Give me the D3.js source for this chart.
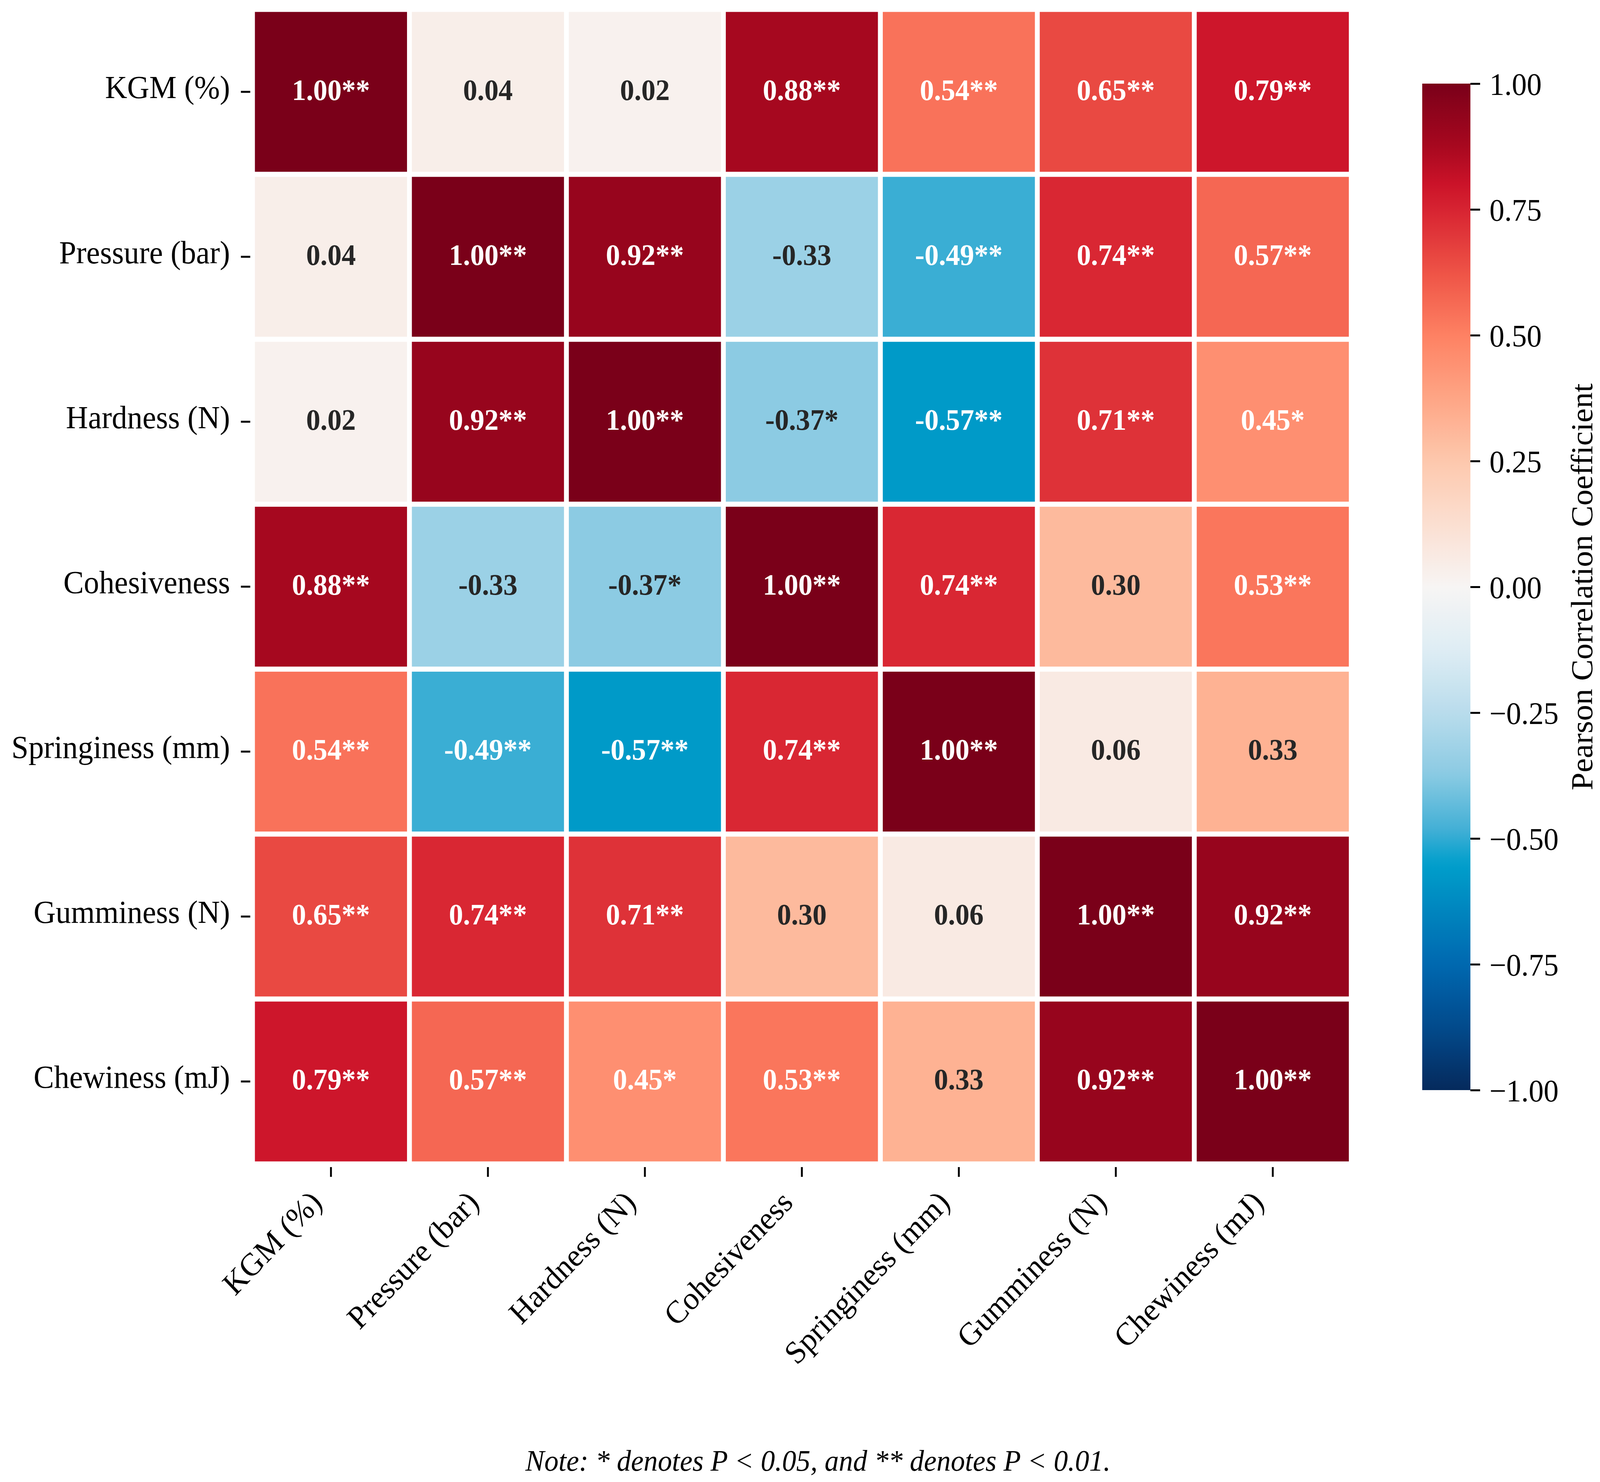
<!DOCTYPE html>
<html>
<head>
<meta charset="utf-8">
<script src="https://cdn.jsdelivr.net/npm/d3@7"></script>
<style>
  html, body { margin: 0; padding: 0; width: 100%; height: 100%; overflow: hidden; background: #fff; }
  #chart, #chart svg { display: block; }
  text { font-family: "Liberation Serif", "Times New Roman", serif; }
  .axis .domain { display: none; }
  .axis .tick line { stroke: #000; stroke-width: 5; }
  .axis .tick text { fill: #000; font-size: 82px; }
  .cbar .tick text { font-size: 80px; }
</style>
</head>
<body>
<div id="chart"></div>
<script>
// variables of the correlation matrix (same order on both axes)
const variables = ["KGM (%)", "Pressure (bar)", "Hardness (N)", "Cohesiveness",
                   "Springiness (mm)", "Gumminess (N)", "Chewiness (mJ)"];

// Pearson coefficients, one row per variable
const corrKGM       = [1.00, 0.04, 0.02, 0.88, 0.54, 0.65, 0.79];
const corrPressure  = [0.04, 1.00, 0.92, -0.33, -0.49, 0.74, 0.57];
const corrHardness  = [0.02, 0.92, 1.00, -0.37, -0.57, 0.71, 0.45];
const corrCohesive  = [0.88, -0.33, -0.37, 1.00, 0.74, 0.30, 0.53];
const corrSpringy   = [0.54, -0.49, -0.57, 0.74, 1.00, 0.06, 0.33];
const corrGummy     = [0.65, 0.74, 0.71, 0.30, 0.06, 1.00, 0.92];
const corrChewy     = [0.79, 0.57, 0.45, 0.53, 0.33, 0.92, 1.00];
const corr = [corrKGM, corrPressure, corrHardness, corrCohesive, corrSpringy, corrGummy, corrChewy];

// significance marks (* P<0.05, ** P<0.01)
const stars = [
  ["**", "",   "",   "**", "**", "**", "**"],
  ["",   "**", "**", "",   "**", "**", "**"],
  ["",   "**", "**", "*",  "**", "**", "*" ],
  ["**", "",   "*",  "**", "**", "",   "**"],
  ["**", "**", "**", "**", "**", "",   ""  ],
  ["**", "**", "**", "",   "",   "**", "**"],
  ["**", "**", "*",  "**", "",   "**", "**"]
];

const cbarTicks = [-1, -0.75, -0.5, -0.25, 0, 0.25, 0.5, 0.75, 1];
const cbarLabel = "Pearson Correlation Coefficient";
const note = "Note: * denotes P < 0.05, and ** denotes P < 0.01.";

//SETUP (drawn in 4284x3793 units, stretched to the window)
const width = 4284, height = 3793;
const grid = {left: 676, right: 3618, top: 24, bottom: 2979};
const cbar = {x: 3808, w: 129, top: 214, bottom: 2790};
const gap = 13;

let svg = d3.select("#chart").append("svg")
  .attr("viewBox", `0 0 ${width} ${height}`)
  .attr("preserveAspectRatio", "none")
  .style("width", "100vw")
  .style("height", "100vh");

// diverging colour map, blue (-1) .. white (0) .. dark red (+1)
const cmapAt = [-1, -0.875, -0.75, -0.55, -0.48, -0.37, -0.25, -0.125, 0,
                0.125, 0.25, 0.375, 0.5, 0.625, 0.74, 0.8, 0.875, 1];
const cmapStops = ["#052a5c", "#024a8c", "#0068b0", "#009fcb", "#44b0d6", "#8ccbe3",
                   "#b9dcec", "#deedf4", "#f7f5f4", "#fbdfd1", "#fdc8ad", "#fea585",
                   "#fe8163", "#ee5346", "#d92733", "#cb1329", "#a8081f", "#7a0019"];
const color = d3.scaleLinear()
  .domain(cmapAt)
  .range(cmapStops)
  .interpolate(d3.interpolateRgb)
  .clamp(true);

let x = d3.scaleBand().domain(variables).range([grid.left, grid.right]);
let y = d3.scaleBand().domain(variables).range([grid.top, grid.bottom]);

const cells = [];
corr.forEach((row, i) => row.forEach((v, j) => {
  cells.push({row: variables[i], col: variables[j], value: v, mark: stars[i][j]});
}));

svg.selectAll("rect.cell")
  .data(cells)
  .enter()
  .append("rect")
  .attr("class", "cell")
  .attr("x", d => x(d.col) + gap / 2)
  .attr("y", d => y(d.row) + gap / 2)
  .attr("width", x.bandwidth() - gap)
  .attr("height", y.bandwidth() - gap)
  .style("fill", d => color(d.value));

svg.selectAll("text.annot")
  .data(cells)
  .enter()
  .append("text")
  .attr("class", "annot")
  .attr("x", d => x(d.col) + x.bandwidth() / 2)
  .attr("y", d => y(d.row) + y.bandwidth() / 2)
  .attr("dy", "0.27em")
  .attr("text-anchor", "middle")
  .style("font-size", "76px")
  .style("font-weight", "bold")
  .style("fill", d => Math.abs(d.value) >= 0.4 ? "#fff" : "#262626")
  .text(d => d.value.toFixed(2) + d.mark);

// y axis
svg.append("g")
  .attr("class", "axis")
  .attr("transform", `translate(${grid.left - 6}, 0)`)
  .call(d3.axisLeft(y).tickSize(25).tickPadding(29))
  .selectAll(".tick text")
  .attr("dy", "0.2em");

// x axis with rotated labels
svg.append("g")
  .attr("class", "axis")
  .attr("transform", `translate(0, ${grid.bottom + 8})`)
  .call(d3.axisBottom(x).tickSize(25))
  .selectAll(".tick text")
  .attr("x", 0)
  .attr("y", 0)
  .attr("dy", 0)
  .attr("text-anchor", "end")
  .attr("transform", "translate(-20, 95) rotate(-45)");

// colour bar
const cy = d3.scaleLinear().domain([-1, 1]).range([cbar.bottom, cbar.top]);

const grad = svg.append("defs").append("linearGradient")
  .attr("id", "cbarGrad")
  .attr("x1", 0).attr("y1", 1).attr("x2", 0).attr("y2", 0);
grad.selectAll("stop")
  .data(d3.range(0, 1.0001, 0.01))
  .enter()
  .append("stop")
  .attr("offset", t => t)
  .attr("stop-color", t => color(-1 + 2 * t));

svg.append("rect")
  .attr("x", cbar.x)
  .attr("y", cy(1))
  .attr("width", cbar.w)
  .attr("height", cy(-1) - cy(1))
  .style("fill", "url(#cbarGrad)");

svg.append("g")
  .attr("class", "axis cbar")
  .attr("transform", `translate(${cbar.x + cbar.w}, 0)`)
  .call(d3.axisRight(cy).tickValues(cbarTicks).tickSize(26).tickPadding(25).tickFormat(d3.format(".2f")))
  .selectAll(".tick text")
  .attr("dy", "0.36em");

svg.append("text")
  .attr("transform", `translate(4263, ${(cbar.top + cbar.bottom) / 2}) rotate(-90)`)
  .attr("text-anchor", "middle")
  .style("font-size", "82px")
  .style("fill", "#000")
  .text(cbarLabel);

// footnote
svg.append("text")
  .attr("x", 2190)
  .attr("y", 3764)
  .attr("text-anchor", "middle")
  .style("font-size", "76px")
  .style("font-style", "italic")
  .style("fill", "#000")
  .text(note);
</script>
</body>
</html>
